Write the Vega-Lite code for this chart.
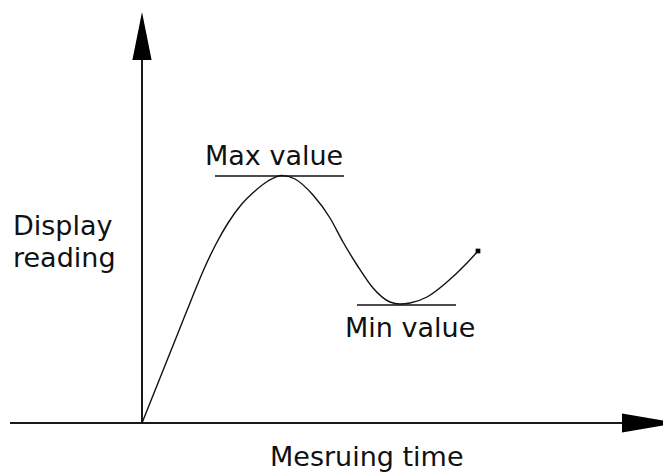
{
  "$schema": "https://vega.github.io/schema/vega-lite/v6.json",
  "width": 663,
  "height": 473,
  "autosize": {"type": "none"},
  "padding": 0,
  "background": "white",
  "config": {"view": {"stroke": null}},
  "datasets": {
    "axes": [
      {"t": -132, "r": 0, "t2": 500, "r2": 0},
      {"t": 0, "r": 0, "t2": 0, "r2": 385}
    ],
    "levels": [
      {"t": 73, "r": 247, "t2": 202, "r2": 247},
      {"t": 215, "r": 118, "t2": 314, "r2": 118}
    ],
    "curve": [
      {"t": 0, "r": 0},
      {"t": 18, "r": 45},
      {"t": 36, "r": 90},
      {"t": 50, "r": 125},
      {"t": 62, "r": 154},
      {"t": 74, "r": 179},
      {"t": 86, "r": 200},
      {"t": 99, "r": 218},
      {"t": 113, "r": 232},
      {"t": 126, "r": 242},
      {"t": 140, "r": 247.5},
      {"t": 153, "r": 244},
      {"t": 171, "r": 228},
      {"t": 188, "r": 205},
      {"t": 201, "r": 181},
      {"t": 215, "r": 158},
      {"t": 231, "r": 135},
      {"t": 248, "r": 121},
      {"t": 258, "r": 119},
      {"t": 268, "r": 120},
      {"t": 285, "r": 126},
      {"t": 305, "r": 141},
      {"t": 325, "r": 160},
      {"t": 336, "r": 172}
    ],
    "yarrow": [{"t": 0, "r": 387}],
    "xarrow": [{"t": 508, "r": 0}],
    "endpoint": [{"t": 336, "r": 172}],
    "labels": [
      {"t": 63, "r": 258, "label": "Max value"},
      {"t": 203, "r": 86, "label": "Min value"},
      {"t": -129, "r": 188, "label": "Display"},
      {"t": -129, "r": 156, "label": "reading"},
      {"t": 128, "r": -43, "label": "Mesruing time"}
    ]
  },
  "encoding": {
    "x": {"field": "t", "type": "quantitative", "scale": {"domain": [-142, 521], "nice": false, "zero": false}, "axis": null},
    "y": {"field": "r", "type": "quantitative", "scale": {"domain": [-50, 423], "nice": false, "zero": false}, "axis": null}
  },
  "layer": [
    {
      "data": {"name": "axes"},
      "mark": {"type": "rule", "stroke": "#1a1a1a", "strokeWidth": 2},
      "encoding": {"x2": {"field": "t2"}, "y2": {"field": "r2"}}
    },
    {
      "data": {"name": "levels"},
      "mark": {"type": "rule", "stroke": "#111111", "strokeWidth": 1.6},
      "encoding": {"x2": {"field": "t2"}, "y2": {"field": "r2"}}
    },
    {
      "data": {"name": "curve"},
      "mark": {"type": "line", "interpolate": "monotone", "stroke": "#111111", "strokeWidth": 1.4},
      "encoding": {}
    },
    {
      "data": {"name": "yarrow"},
      "mark": {"type": "point", "shape": "M0,-1L0.4,1L-0.4,1Z", "size": 2304, "filled": true, "fill": "black", "stroke": null, "opacity": 1}
    },
    {
      "data": {"name": "xarrow"},
      "mark": {"type": "point", "shape": "M1,0L-1,-0.34L-1,0.34Z", "size": 3136, "filled": true, "fill": "black", "stroke": null, "opacity": 1}
    },
    {
      "data": {"name": "endpoint"},
      "mark": {"type": "point", "shape": "square", "size": 22, "filled": true, "fill": "black", "opacity": 1}
    },
    {
      "data": {"name": "labels"},
      "mark": {"type": "text", "align": "left", "baseline": "alphabetic", "font": "DejaVu Sans", "fontSize": 27, "fill": "#111111"},
      "encoding": {"text": {"field": "label"}}
    }
  ]
}
